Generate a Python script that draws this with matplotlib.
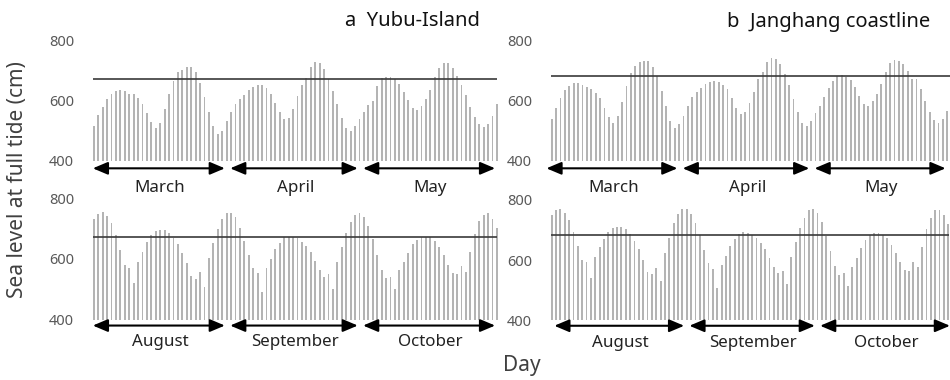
import matplotlib
matplotlib.use("Agg")
import matplotlib.pyplot as plt
import matplotlib.transforms as mtransforms
import numpy as np

plt.rcParams['font.family'] = ['Noto Sans', 'DejaVu Sans']

# Daily sea level at full tide (cm)
spring_months = ["March", "April", "May"]
autumn_months = ["August", "September", "October"]
spring_days = [31, 30, 31]
autumn_days = [31, 30, 31]

yubu_spring = [
    518, 552, 581, 607, 623, 635, 636, 635, 625, 622, 609, 589, 561, 529, 511, 526,
    572, 623, 668, 696, 704, 713, 713, 696, 661, 614, 563, 517, 491, 501, 533,
    562, 589, 606, 620, 636, 648, 652, 652, 642, 625, 594, 562, 539, 542, 572,
    618, 652, 678, 712, 729, 726, 706, 673, 634, 589, 542, 511, 500, 517, 540,
    564, 587, 601, 651, 676, 679, 679, 672, 656, 631, 602, 578, 569, 583, 606, 638,
    681, 711, 726, 726, 711, 684, 655, 620, 581, 548, 522, 514, 522, 551, 590,
]
janghang_spring = [
    539, 576, 609, 636, 651, 661, 661, 654, 647, 639, 628, 609, 576, 546, 528, 550,
    598, 651, 694, 718, 729, 733, 733, 714, 683, 634, 583, 533, 509, 522, 550,
    584, 612, 630, 642, 656, 664, 668, 664, 654, 639, 611, 578, 558, 563, 595,
    630, 673, 698, 731, 742, 740, 722, 691, 653, 607, 562, 528, 518, 533, 559,
    584, 612, 644, 668, 683, 687, 681, 670, 646, 617, 590, 584, 601, 622, 656, 698,
    726, 737, 734, 722, 700, 672, 672, 639, 601, 564, 537, 528, 539, 567, 595,
]
yubu_autumn = [
    732, 748, 754, 742, 718, 679, 630, 580, 571, 522, 591, 624, 655, 679, 693, 697,
    696, 685, 668, 650, 621, 586, 545, 534, 556, 508, 602, 652, 699, 732, 753,
    753, 738, 704, 660, 613, 571, 553, 490, 569, 600, 633, 654, 672, 674, 672,
    671, 657, 644, 622, 594, 564, 539, 549, 501, 589, 641, 685, 721, 745, 751,
    740, 709, 666, 613, 564, 536, 542, 501, 564, 591, 621, 650, 663, 672, 672, 672,
    660, 641, 613, 580, 553, 551, 577, 558, 622, 682, 726, 745, 751, 732, 704,
]
janghang_autumn = [
    750, 767, 769, 758, 733, 694, 647, 600, 592, 539, 609, 642, 670, 692, 708, 711,
    711, 703, 686, 663, 636, 600, 561, 552, 574, 530, 622, 674, 722, 753, 770,
    770, 752, 722, 683, 633, 589, 570, 508, 583, 614, 647, 670, 686, 692, 690,
    685, 672, 658, 637, 608, 578, 556, 564, 521, 609, 661, 706, 741, 767, 770,
    756, 726, 681, 631, 580, 550, 556, 514, 578, 606, 641, 667, 683, 689, 689, 683,
    672, 650, 624, 592, 567, 564, 592, 578, 644, 703, 741, 767, 767, 750, 720,
]

yubu_threshold = 672
janghang_threshold = 683

y_ticks = [400, 600, 800]
y_min, y_max = 400, 800

W, H = 950, 380
fig = plt.figure(figsize=(W / 100, H / 100), dpi=100)


def fig_frac(x, y):
    return x / W, 1 - y / H


def draw_panel(rect_px, values, threshold, months, days, shift, label_y, arrow_y):
    left, top, width, height = rect_px
    ax = fig.add_axes([left / W, 1 - (top + height) / H, width / W, height / H])
    vals = np.asarray(values, dtype=float)
    x = np.arange(len(vals))
    ax.bar(x, vals - y_min, bottom=y_min, width=0.42, color='#b4b4b4', linewidth=0)
    ax.hlines(threshold, -0.15, len(vals) - 0.9, color='#3a3a3a', lw=1.2)
    ax.set_xlim(-0.5, len(vals) - 0.5)
    ax.set_ylim(y_min, y_max)
    ax.set_yticks(y_ticks)
    ax.tick_params(axis='y', length=0, pad=12.5, labelsize=10.5, labelcolor='#595959')
    ax.set_xticks([])
    for s in ax.spines.values():
        s.set_visible(False)
    ax.patch.set_alpha(0)

    trans = mtransforms.blended_transform_factory(ax.transData, ax.transAxes)
    start = 0
    for name, n in zip(months, days):
        end = start + n - 1
        ax.annotate('', xy=(end - 0.4 + shift, arrow_y),
                    xytext=(start - 0.2 + shift, arrow_y),
                    xycoords=trans, textcoords=trans, annotation_clip=False,
                    arrowprops=dict(arrowstyle='<|-|>,head_length=0.9,head_width=0.38',
                                    mutation_scale=10, color='black', lw=1.5,
                                    shrinkA=0, shrinkB=0))
        ax.text((start + end) / 2 + shift, label_y, name, transform=trans,
                ha='center', va='center', fontsize=12.2, color='#222222')
        start += n
    return ax


draw_panel((91.5, 41, 407.6, 120), yubu_spring, yubu_threshold,
           spring_months, spring_days, 0.0, -0.222, -0.061)
draw_panel((549.5, 41, 404.4, 120), janghang_spring, janghang_threshold,
           spring_months, spring_days, -1.0, -0.222, -0.061)
draw_panel((91.5, 198.5, 407.6, 121), yubu_autumn, yubu_threshold,
           autumn_months, autumn_days, 0.0, -0.183, -0.05)
draw_panel((549.5, 200, 400.9, 120), janghang_autumn, janghang_threshold,
           autumn_months, autumn_days, 0.8, -0.19, -0.048)

fig.text(*fig_frac(480, 21), "a  Yubu-Island", ha='right', va='center',
         fontsize=14.5, color='#111111')
fig.text(*fig_frac(930, 22), "b  Janghang coastline", ha='right', va='center',
         fontsize=14.5, color='#111111')
fig.text(*fig_frac(18, 180), "Sea level at full tide (cm)", rotation=90,
         ha='center', va='center', fontsize=15, color='#404040')
fig.text(*fig_frac(522, 366), "Day", ha='center', va='center',
         fontsize=15, color='#404040')

fig.savefig("out.png", dpi=100)
